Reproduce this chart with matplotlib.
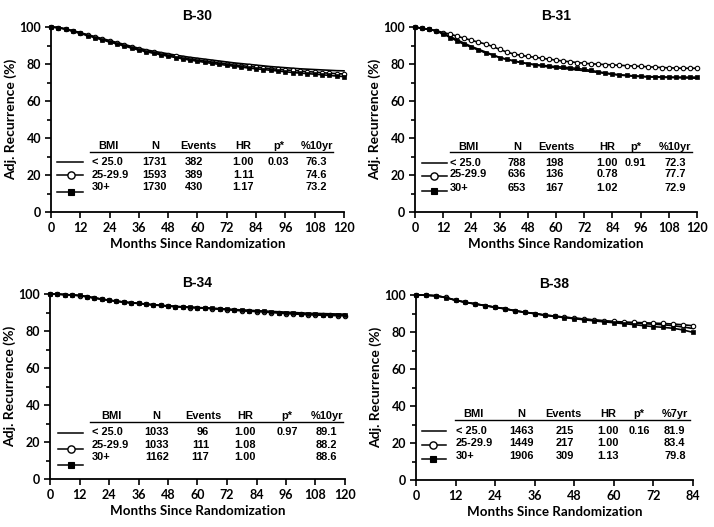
import matplotlib
matplotlib.use("Agg")
import matplotlib.pyplot as plt
import numpy as np

# ---------------- data ----------------
groups = ["< 25.0", "25-29.9", "30+"]

months_120 = list(range(0, 121, 3))
months_84 = list(range(0, 85, 3))

b30_lt25 = [100, 99.7, 99.0, 98.0, 97.0, 95.8, 94.8, 93.7, 92.7, 91.6, 90.6, 89.5, 88.5, 87.6, 86.9, 86.2, 85.5, 84.8, 84.2, 83.6, 83.1, 82.6, 82.1, 81.6, 81.1, 80.6, 80.2, 79.8, 79.4, 79.0, 78.6, 78.3, 78.0, 77.7, 77.4, 77.2, 77.0, 76.8, 76.6, 76.4, 76.3]
b30_25 = [100, 99.7, 98.9, 97.8, 96.8, 95.6, 94.5, 93.3, 92.3, 91.2, 90.1, 89.0, 88.0, 87.1, 86.3, 85.5, 84.8, 84.1, 83.4, 82.8, 82.2, 81.6, 81.1, 80.6, 80.1, 79.6, 79.1, 78.7, 78.3, 77.9, 77.5, 77.1, 76.8, 76.5, 76.2, 75.9, 75.6, 75.3, 75.0, 74.8, 74.6]
b30_30 = [100, 99.6, 98.8, 97.6, 96.5, 95.3, 94.2, 93.0, 91.9, 90.8, 89.7, 88.6, 87.5, 86.6, 85.8, 85.0, 84.2, 83.5, 82.8, 82.1, 81.5, 80.9, 80.3, 79.8, 79.3, 78.8, 78.3, 77.8, 77.4, 77.0, 76.6, 76.2, 75.8, 75.4, 75.1, 74.8, 74.5, 74.2, 73.8, 73.5, 73.2]

b31_lt25 = [100, 99.2, 98.7, 97.9, 96.5, 94.8, 93.0, 91.2, 89.5, 88.0, 86.5, 85.0, 83.5, 82.5, 81.6, 80.8, 80.1, 79.5, 78.9, 78.4, 78.0, 77.6, 77.2, 76.8, 76.4, 75.9, 75.4, 74.9, 74.4, 74.0, 73.7, 73.4, 73.2, 73.0, 72.9, 72.8, 72.7, 72.6, 72.5, 72.4, 72.3]
b31_25 = [100, 99.3, 98.8, 98.0, 97.0, 96.1, 95.0, 93.9, 92.8, 91.8, 90.8, 89.5, 87.9, 86.5, 85.4, 84.7, 84.1, 83.6, 83.1, 82.6, 82.1, 81.6, 81.2, 80.8, 80.4, 80.1, 79.9, 79.7, 79.5, 79.3, 79.1, 78.9, 78.7, 78.5, 78.3, 78.1, 77.9, 77.8, 77.7, 77.7, 77.7]
b31_30 = [100, 99.2, 98.7, 97.8, 96.2, 94.3, 92.3, 90.6, 89.0, 87.5, 86.0, 84.8, 83.5, 82.6, 81.7, 80.9, 80.2, 79.7, 79.3, 78.9, 78.6, 78.3, 78.0, 77.6, 77.1, 76.5, 75.8, 75.2, 74.6, 74.2, 73.9, 73.6, 73.4, 73.2, 73.1, 73.0, 72.9, 72.9, 72.9, 72.9, 72.9]

b34_lt25 = [100, 99.9, 99.7, 99.5, 99.2, 98.6, 97.9, 97.3, 96.7, 96.2, 95.7, 95.3, 95.0, 94.6, 94.2, 93.9, 93.6, 93.3, 93.1, 92.9, 92.7, 92.5, 92.3, 92.1, 91.9, 91.6, 91.4, 91.2, 91.0, 90.8, 90.6, 90.4, 90.2, 90.0, 89.8, 89.6, 89.5, 89.4, 89.3, 89.2, 89.1]
b34_25 = [100, 99.9, 99.7, 99.4, 99.1, 98.5, 97.8, 97.2, 96.6, 96.1, 95.6, 95.2, 94.9, 94.5, 94.1, 93.8, 93.5, 93.2, 92.9, 92.7, 92.5, 92.3, 92.1, 91.8, 91.5, 91.2, 90.9, 90.7, 90.5, 90.3, 90.0, 89.7, 89.4, 89.2, 89.0, 88.8, 88.6, 88.5, 88.4, 88.3, 88.2]
b34_30 = [100, 99.9, 99.7, 99.5, 99.2, 98.6, 97.9, 97.2, 96.6, 96.1, 95.6, 95.2, 94.9, 94.5, 94.1, 93.8, 93.5, 93.2, 93.0, 92.8, 92.6, 92.4, 92.2, 91.9, 91.7, 91.4, 91.2, 91.0, 90.8, 90.6, 90.3, 90.0, 89.8, 89.6, 89.4, 89.2, 89.0, 88.9, 88.8, 88.7, 88.6]

b38_lt25 = [100, 99.9, 99.6, 98.7, 97.2, 96.1, 95.2, 94.3, 93.4, 92.6, 91.5, 90.7, 90.0, 89.2, 88.6, 88.0, 87.5, 87.0, 86.5, 86.0, 85.5, 85.1, 84.8, 84.5, 84.2, 83.9, 83.4, 82.7, 81.9]
b38_25 = [100, 99.9, 99.6, 98.7, 97.2, 96.1, 95.2, 94.3, 93.4, 92.6, 91.5, 90.7, 90.0, 89.2, 88.6, 88.0, 87.5, 87.0, 86.5, 86.1, 85.7, 85.4, 85.2, 85.0, 84.8, 84.6, 84.3, 83.9, 83.4]
b38_30 = [100, 99.9, 99.6, 98.6, 97.1, 96.0, 95.1, 94.2, 93.3, 92.5, 91.4, 90.6, 89.9, 89.0, 88.4, 87.8, 87.2, 86.6, 86.0, 85.5, 85.0, 84.5, 84.0, 83.4, 82.9, 82.5, 82.0, 81.1, 79.8]

b30_N = ["1731", "1593", "1730"]
b30_events = ["382", "389", "430"]
b30_hr = ["1.00", "1.11", "1.17"]
b30_p = "0.03"
b30_pct = ["76.3", "74.6", "73.2"]

b31_N = ["788", "636", "653"]
b31_events = ["198", "136", "167"]
b31_hr = ["1.00", "0.78", "1.02"]
b31_p = "0.91"
b31_pct = ["72.3", "77.7", "72.9"]

b34_N = ["1033", "1033", "1162"]
b34_events = ["96", "111", "117"]
b34_hr = ["1.00", "1.08", "1.00"]
b34_p = "0.97"
b34_pct = ["89.1", "88.2", "88.6"]

b38_N = ["1463", "1449", "1906"]
b38_events = ["215", "217", "309"]
b38_hr = ["1.00", "1.00", "1.13"]
b38_p = "0.16"
b38_pct = ["81.9", "83.4", "79.8"]

# ---------------- layout ----------------
W, H = 714, 527
fig = plt.figure(figsize=(W / 100, H / 100), dpi=100)

def frac(l, r, t, b):
    return [l / W, 1 - b / H, (r - l) / W, (b - t) / H]

TICKFONT = dict(family="Lato", weight="bold", size=9)
XLABFONT = dict(family="Lato", weight="bold", size=9.6)
YLABFONT = dict(family="Lato", weight="bold", size=10)
TITLEFONT = dict(family="Liberation Sans", weight="bold", size=10)
TABFONT = dict(family="Liberation Sans", weight="bold", size=7.9)

styles = [
    dict(marker=None),
    dict(marker="o", mfc="white", mec="black", ms=3.2, mew=0.8),
    dict(marker="s", mfc="black", mec="black", ms=3.0, mew=0.5),
]
leg_styles = [
    dict(marker=None),
    dict(marker="o", mfc="white", mec="black", ms=5.2, mew=1.0),
    dict(marker="s", mfc="black", mec="black", ms=5.0, mew=0.8),
]

panels = [
    dict(title="B-30", rect=frac(51, 344, 27, 212), x=months_120,
         ys=[b30_lt25, b30_25, b30_30], xmax=120,
         N=b30_N, ev=b30_events, hr=b30_hr, p=b30_p, pct=b30_pct, pcth="%10yr",
         rows=[26.8, 20.0, 13.3], legy=[26.8, 20.0, 11.0], head=35.7, uline=32.6,
         leg=(2.3, 13.2, 8.0), bmi=16.7, bmih=23.5, cN=42.5, cE=60.3, rE=62.5, cH=78.8,
         cP=93.1, cPct=108.8, ul=(16.0, 115.6)),
    dict(title="B-31", rect=frac(415, 697, 27, 212), x=months_120,
         ys=[b31_lt25, b31_25, b31_30], xmax=120,
         N=b31_N, ev=b31_events, hr=b31_hr, p=b31_p, pct=b31_pct, pcth="%10yr",
         rows=[26.7, 20.4, 13.2], legy=[26.3, 19.6, 11.5], head=35.3, uline=32.3,
         leg=(3.0, 13.6, 7.9), bmi=14.8, bmih=22.8, cN=43.4, cE=60.1, rE=63.3, cH=81.7,
         cP=93.8, cPct=110.8, ul=(14.8, 117.9)),
    dict(title="B-34", rect=frac(50, 345, 294, 479), x=months_120,
         ys=[b34_lt25, b34_25, b34_30], xmax=120,
         N=b34_N, ev=b34_events, hr=b34_hr, p=b34_p, pct=b34_pct, pcth="%10yr",
         rows=[25.2, 18.4, 11.7], legy=[24.7, 16.1, 7.6], head=34.0, uline=30.8,
         leg=(3.4, 13.5, 8.5), bmi=17.0, bmih=25.1, cN=43.4, cE=62.4, rE=64.8, cH=79.3,
         cP=96.5, cPct=112.5, ul=(16.3, 119.3)),
    dict(title="B-38", rect=frac(416, 693, 295, 480), x=months_84,
         ys=[b38_lt25, b38_25, b38_30], xmax=84,
         N=b38_N, ev=b38_events, hr=b38_hr, p=b38_p, pct=b38_pct, pcth="%7yr",
         rows=[26.5, 20.0, 13.0], legy=[26.5, 18.9, 11.2], head=35.7, uline=32.4,
         leg=(1.7, 9.0, 5.3), bmi=12.1, bmih=17.4, cN=32.0, cE=44.7, rE=47.9, cH=58.3,
         cP=67.7, cPct=78.5, ul=(11.8, 83.1)),
]

for P in panels:
    ax = fig.add_axes(P["rect"])
    for y, st in zip(P["ys"], styles):
        ax.plot(P["x"], y, color="black", lw=1.2, clip_on=False, **st)
    ax.set_xlim(0, P["xmax"])
    ax.set_ylim(0, 100)
    ax.set_xticks(np.arange(0, P["xmax"] + 1, 12))
    ax.set_yticks(np.arange(0, 101, 20))
    ax.set_yticks(np.arange(10, 100, 20), minor=True)
    for s in ["top", "right"]:
        ax.spines[s].set_visible(False)
    for s in ["left", "bottom"]:
        ax.spines[s].set_linewidth(1.3)
    ax.tick_params(axis="both", which="major", direction="out", length=4, width=1.2, pad=3)
    ax.tick_params(axis="y", which="minor", direction="out", length=3, width=1.2)
    for lab in ax.get_xticklabels() + ax.get_yticklabels():
        lab.set_fontfamily(TICKFONT["family"])
        lab.set_fontweight("bold")
        lab.set_fontsize(TICKFONT["size"])
    ax.set_xlabel("Months Since Randomization", labelpad=3, **XLABFONT)
    ax.set_ylabel("Adj. Recurrence (%)", labelpad=2, **YLABFONT)
    ax.set_title(P["title"], pad=5, **TITLEFONT)

    # embedded table
    hy = P["head"]
    ax.text(P["bmih"], hy, "BMI", ha="center", va="center", **TABFONT)
    ax.text(P["cN"], hy, "N", ha="center", va="center", **TABFONT)
    ax.text(P["cE"], hy, "Events", ha="center", va="center", **TABFONT)
    ax.text(P["cH"], hy, "HR", ha="center", va="center", **TABFONT)
    ax.text(P["cP"], hy, "p*", ha="center", va="center", **TABFONT)
    ax.text(P["cPct"], hy, P["pcth"], ha="center", va="center", **TABFONT)
    ax.plot(P["ul"], [P["uline"], P["uline"]], color="black", lw=1.0)
    l0, l1, lm = P["leg"]
    for i, ry in enumerate(P["rows"]):
        ly = P["legy"][i]
        ax.plot([l0, l1], [ly, ly], color="black", lw=1.1)
        if leg_styles[i]["marker"]:
            ax.plot([lm], [ly], color="black", **leg_styles[i])
        ax.text(P["bmi"], ry, groups[i], ha="left", va="center", **TABFONT)
        ax.text(P["cN"], ry, P["N"][i], ha="center", va="center", **TABFONT)
        ax.text(P["rE"], ry, P["ev"][i], ha="right", va="center", **TABFONT)
        ax.text(P["cH"], ry, P["hr"][i], ha="center", va="center", **TABFONT)
        if i == 0:
            ax.text(P["cP"], ry, P["p"], ha="center", va="center", **TABFONT)
        ax.text(P["cPct"], ry, P["pct"][i], ha="center", va="center", **TABFONT)

fig.savefig("out.png", dpi=100)
